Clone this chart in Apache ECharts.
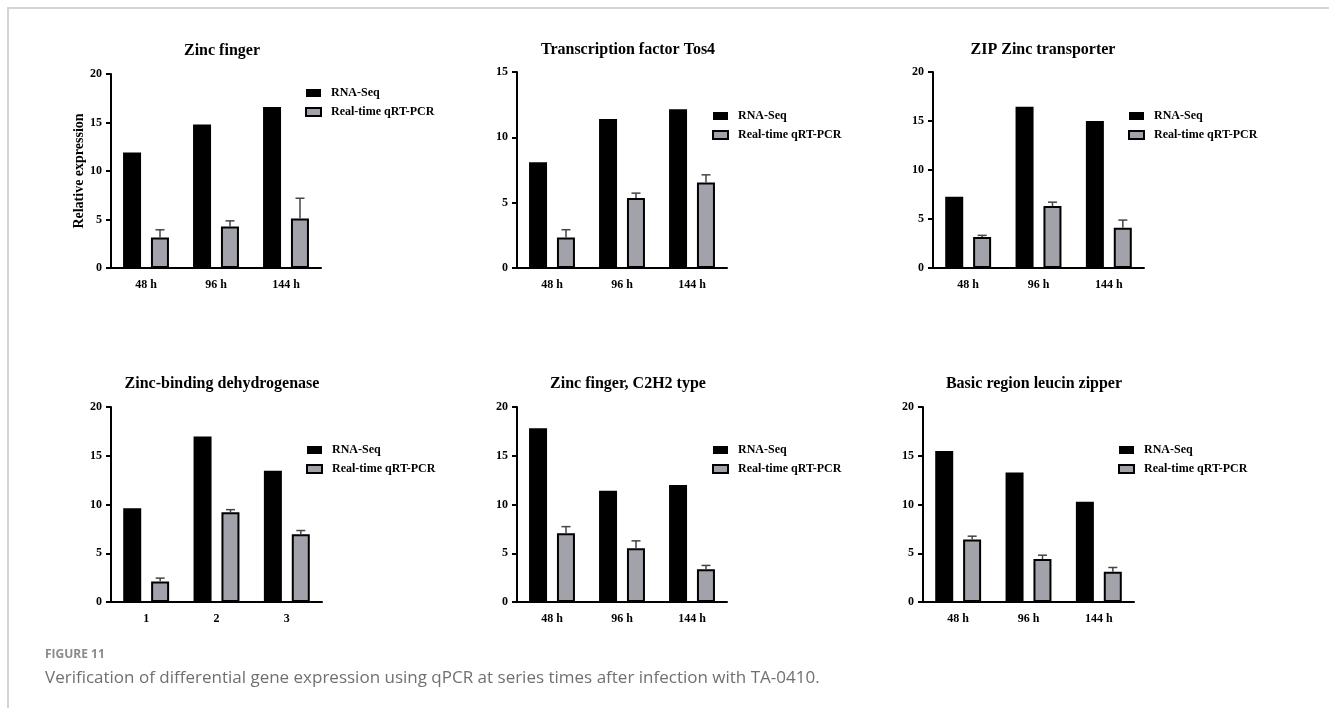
<!DOCTYPE html>
<html>
<head>
<meta charset="utf-8">
<script src="https://cdn.jsdelivr.net/npm/echarts@6/dist/echarts.min.js"></script>
<style>
  html, body { margin: 0; padding: 0; background: #fff; }
  #frame { position: absolute; left: 7px; top: 7px; right: 0; bottom: 0; border-top: 2px solid #d4d4d4; border-left: 2px solid #d4d4d4; }
  #chart { position: absolute; left: 0; top: 0; width: 1329px; height: 708px; }
</style>
</head>
<body>
<div id="frame"></div>
<div id="chart"></div>
<script>
var hours = ['48 h', '96 h', '144 h'];
var steps = ['1', '2', '3'];
var seriesNames = ['RNA-Seq', 'Real-time qRT-PCR'];

// RNA-Seq, qRT-PCR mean, qRT-PCR upper error
var zfRna = [11.9, 14.8, 16.6], zfPcr = [3.15, 4.28, 5.1], zfErr = [0.79, 0.58, 2.09];
var tosRna = [8.1, 11.41, 12.15], tosPcr = [2.34, 5.35, 6.54], tosErr = [0.59, 0.38, 0.59];
var zipRna = [7.27, 16.45, 15.01], zipPcr = [3.16, 6.32, 4.11], zipErr = [0.17, 0.4, 0.78];
var zbdRna = [9.61, 16.97, 13.46], zbdPcr = [2.11, 9.2, 6.95], zbdErr = [0.34, 0.27, 0.38];
var c2h2Rna = [17.82, 11.41, 11.99], c2h2Pcr = [7.05, 5.52, 3.37], c2h2Err = [0.68, 0.75, 0.38];
var bzipRna = [15.5, 13.29, 10.29], bzipPcr = [6.41, 4.4, 3.1], bzipErr = [0.34, 0.4, 0.44];

var panels = [
  { title: 'Zinc finger', cats: hours, rna: zfRna, pcr: zfPcr, err: zfErr, max: 20 },
  { title: 'Transcription factor Tos4', cats: hours, rna: tosRna, pcr: tosPcr, err: tosErr, max: 15 },
  { title: 'ZIP Zinc transporter', cats: hours, rna: zipRna, pcr: zipPcr, err: zipErr, max: 20 },
  { title: 'Zinc-binding dehydrogenase', cats: steps, rna: zbdRna, pcr: zbdPcr, err: zbdErr, max: 20 },
  { title: 'Zinc finger, C2H2 type', cats: hours, rna: c2h2Rna, pcr: c2h2Pcr, err: c2h2Err, max: 20 },
  { title: 'Basic region leucin zipper', cats: hours, rna: bzipRna, pcr: bzipPcr, err: bzipErr, max: 20 }
];

// layout of each panel: grid box, title centre, legend corner
var boxes = [
  { left: 111, top: 74, width: 210, height: 194, tx: 217, ty: 38, lx: 305, ly: 87 },
  { left: 517, top: 72, width: 210, height: 196, tx: 623, ty: 37, lx: 712, ly: 110 },
  { left: 933, top: 72, width: 211, height: 196, tx: 1038, ty: 37, lx: 1128, ly: 110 },
  { left: 111, top: 407, width: 211, height: 195, tx: 217, ty: 371, lx: 306, ly: 444 },
  { left: 517, top: 407, width: 210, height: 195, tx: 623, ty: 371, lx: 712, ly: 444 },
  { left: 923, top: 407, width: 211, height: 195, tx: 1029, ty: 371, lx: 1118, ly: 444 }
];

var serif = 'Liberation Serif';
var myChart = echarts.init(document.getElementById('chart'));

var grid = [], xAxis = [], yAxis = [], series = [], title = [], legend = [];

panels.forEach(function (p, i) {
  var b = boxes[i];
  grid.push({ left: b.left, top: b.top, width: b.width, height: b.height });
  title.push({
    text: p.title, left: b.tx, top: b.ty, textAlign: 'center',
    textStyle: { fontFamily: serif, fontWeight: 'bold', fontSize: 16, color: '#000' }
  });
  legend.push({
    data: seriesNames, orient: 'vertical', left: b.lx, top: b.ly, padding: 0,
    icon: 'rect', itemWidth: 15, itemHeight: 8, itemGap: 7,
    textStyle: { fontFamily: serif, fontWeight: 'bold', fontSize: 12, color: '#000', padding: [0, 0, 0, 5] }
  });
  xAxis.push({
    type: 'category', gridIndex: i, data: p.cats,
    axisLine: { lineStyle: { color: '#000', width: 2 } },
    axisTick: { alignWithLabel: true, length: 6, lineStyle: { color: '#000', width: 2 } },
    axisLabel: { margin: 11, fontFamily: serif, fontWeight: 'bold', fontSize: 12, color: '#000' }
  });
  yAxis.push({
    type: 'value', gridIndex: i, min: 0, max: p.max, interval: 5,
    name: i === 0 ? 'Relative expression' : '',
    nameLocation: 'middle', nameGap: 25,
    nameTextStyle: { fontFamily: serif, fontWeight: 'bold', fontSize: 14, color: '#000' },
    splitLine: { show: false },
    axisLine: { show: true, lineStyle: { color: '#000', width: 2 } },
    axisTick: { show: true, length: 5, lineStyle: { color: '#000', width: 2 } },
    axisLabel: { margin: 9, fontFamily: serif, fontWeight: 'bold', fontSize: 12, color: '#000' }
  });
  series.push({
    name: seriesNames[0], type: 'bar', xAxisIndex: i, yAxisIndex: i,
    barWidth: 18, barGap: '55%', data: p.rna,
    itemStyle: { color: '#000' }
  });
  series.push({
    name: seriesNames[1], type: 'bar', xAxisIndex: i, yAxisIndex: i,
    barWidth: 18, barGap: '55%', data: p.pcr,
    itemStyle: { color: '#a2a2aa', borderColor: '#000', borderWidth: 2 }
  });
  series.push({
    type: 'custom', xAxisIndex: i, yAxisIndex: i, z: 5, silent: true,
    data: p.pcr.map(function (v, k) { return [k, v, v + p.err[k]]; }),
    renderItem: function (params, api) {
      var base = api.coord([api.value(0), api.value(1)]);
      var top = api.coord([api.value(0), api.value(2)]);
      var cx = base[0] + 14;
      var st = { stroke: '#444', lineWidth: 1.5 };
      return {
        type: 'group',
        children: [
          { type: 'line', shape: { x1: cx, y1: base[1], x2: cx, y2: top[1] }, style: st },
          { type: 'line', shape: { x1: cx - 4.5, y1: top[1], x2: cx + 4.5, y2: top[1] }, style: st }
        ]
      };
    }
  });
});

title.push({
  text: 'FIGURE 11', left: 40, top: 644,
  textStyle: { fontFamily: 'Open Sans', fontWeight: 'bold', fontSize: 12, color: '#8a8a8a' }
});
title.push({
  text: 'Verification of differential gene expression using qPCR at series times after infection with TA-0410.',
  left: 40, top: 665,
  textStyle: { fontFamily: 'Open Sans', fontWeight: 'normal', fontSize: 17, color: '#707070' }
});

option = {
  backgroundColor: 'transparent',
  animation: false,
  title: title,
  legend: legend,
  grid: grid,
  xAxis: xAxis,
  yAxis: yAxis,
  series: series
};
myChart.setOption(option);
</script>
</body>
</html>
